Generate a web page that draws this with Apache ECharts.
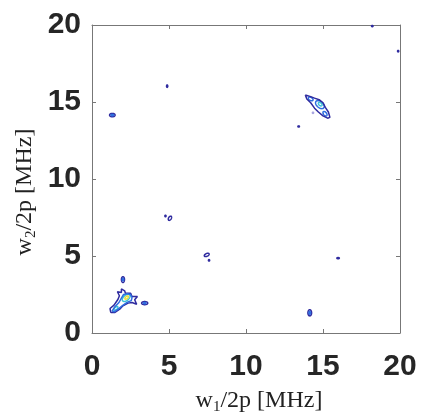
<!DOCTYPE html>
<html><head><meta charset="utf-8">
<script src="https://cdn.jsdelivr.net/npm/echarts@6/dist/echarts.min.js"></script>
<style>html,body{margin:0;padding:0;background:#fff}#c{width:422px;height:416px}</style>
</head><body><div id="c"></div><script>
// ---- data ----
const xTicks = [0, 5, 10, 15, 20];
const yTicks = [0, 5, 10, 15, 20];
const xTitleParts = ['w', '1', '/2p [MHz]'];
const yTitleParts = ['w', '2', '/2p [MHz]'];
// contour level index -> colour (parula-like)
const levelColors = ['#2f2b9f', '#2f6ee0', '#3cc3d6', '#ece23a', '#a9a6e0'];
// small peak contour rings: [cx, cy, rx, ry, angleDeg, level]
const peakRings = [
  [1.32, 14.15, 0.18, 0.11, 0, 0],
  [1.32, 14.15, 0.08, 0.045, 0, 1],
  [14.14, 1.31, 0.12, 0.20, 0, 0],
  [14.14, 1.31, 0.05, 0.09, 0, 1],
  [2.01, 3.47, 0.10, 0.19, 0, 0],
  [2.01, 3.47, 0.04, 0.08, 0, 1],
  [3.42, 1.94, 0.20, 0.10, 0, 0],
  [3.42, 1.94, 0.08, 0.04, 0, 1],
  [5.06, 7.45, 0.09, 0.15, -30, 0],
  [4.77, 7.60, 0.04, 0.05, 0, 0],
  [7.45, 5.07, 0.17, 0.09, 25, 0],
  [7.60, 4.72, 0.04, 0.05, 0, 0],
  [4.88, 16.03, 0.04, 0.08, 0, 0],
  [15.98, 4.86, 0.08, 0.04, 0, 0],
  [13.42, 13.41, 0.05, 0.04, 0, 0],
  [18.20, 19.93, 0.05, 0.04, 0, 0],
  [19.88, 18.30, 0.04, 0.05, 0, 0],
  [14.35, 14.30, 0.04, 0.04, 0, 4],
  [14.20, 15.20, 0.17, 0.10, -30, 1],
  [14.80, 14.83, 0.33, 0.20, -40, 1],
  [15.13, 14.24, 0.17, 0.10, -50, 1],
  [14.82, 14.86, 0.14, 0.09, -40, 2],
  [2.22, 2.28, 0.30, 0.17, 40, 2],
  [1.55, 1.60, 0.16, 0.08, 40, 2],
  [2.25, 2.30, 0.14, 0.07, 40, 3]
];
// cluster outlines (data coordinates)
const lowLeftOuter = [[1.22,1.33],[1.17,1.59],[1.43,1.81],[1.58,2.03],[1.69,2.19],[1.78,2.42],[1.65,2.68],[1.91,2.63],[1.91,2.86],[2.12,2.74],[2.17,2.58],[2.51,2.58],[2.60,2.37],[2.95,2.37],[2.77,2.16],[2.90,1.87],[2.60,1.98],[2.34,1.94],[2.01,1.77],[1.80,1.55],[1.47,1.33],[1.22,1.33]];
const lowLeftMid = [[1.30,1.42],[1.50,1.72],[1.75,1.98],[1.90,2.25],[2.05,2.50],[2.30,2.55],[2.50,2.50],[2.60,2.30],[2.55,2.10],[2.30,2.00],[2.00,1.80],[1.70,1.55],[1.45,1.38],[1.30,1.42]];
const upRightOuter = [[13.85,15.45],[14.20,15.35],[14.45,15.25],[14.75,15.15],[15.00,14.95],[15.15,14.65],[15.35,14.35],[15.45,14.00],[15.30,13.95],[15.00,14.10],[14.70,14.35],[14.45,14.60],[14.20,14.95],[13.95,15.20],[13.85,15.45]];
const clusterOutlines = [
  {points: lowLeftOuter, level: 0},
  {points: lowLeftMid, level: 1},
  {points: upRightOuter, level: 0}
];

// ---- chart ----
const chart = echarts.init(document.getElementById('c'), null, {renderer: 'canvas'});
const axisColor = '#777';
const tickFont = {fontFamily: 'Liberation Sans', fontWeight: 'bold', fontSize: 30, color: '#262626'};
function mkAxis(pos, showLabel, isY) {
  return {
    type: 'value', min: xTicks[0], max: xTicks[xTicks.length - 1], interval: 5,
    position: pos,
    axisLine: {show: true, onZero: false, lineStyle: {color: axisColor, width: 1}},
    axisTick: {show: true, inside: true, length: 4, lineStyle: {color: axisColor}},
    axisLabel: showLabel ? Object.assign({show: true, showMinLabel: true, showMaxLabel: true,
      margin: isY ? 11 : 19}, tickFont, isY ? {padding: [10, 0, 0, 0]} : {}) : {show: false},
    splitLine: {show: false}
  };
}
const series = [];
series.push({
  type: 'custom',
  coordinateSystem: 'cartesian2d',
  xAxisIndex: 0, yAxisIndex: 0,
  silent: true,
  data: peakRings,
  renderItem: function (params, api) {
    const cx = api.value(0), cy = api.value(1), rx = api.value(2), ry = api.value(3);
    const a = api.value(4) * Math.PI / 180, lvl = api.value(5);
    const pts = [];
    for (let i = 0; i < 40; i++) {
      const t = i / 40 * Math.PI * 2;
      const dx = rx * Math.cos(t), dy = ry * Math.sin(t);
      pts.push(api.coord([cx + dx * Math.cos(a) - dy * Math.sin(a), cy + dx * Math.sin(a) + dy * Math.cos(a)]));
    }
    return {type: 'polygon', shape: {points: pts}, style: {fill: 'none', stroke: levelColors[lvl], lineWidth: 1.5}};
  }
});
clusterOutlines.forEach(function (c) {
  series.push({
    type: 'line', data: c.points, showSymbol: false, silent: true,
    lineStyle: {color: levelColors[c.level], width: 1.5}
  });
});
chart.setOption({
  animation: false,
  backgroundColor: '#fff',
  grid: {left: 92, top: 25, width: 308, height: 308, containLabel: false},
  xAxis: [mkAxis('bottom', true, false), mkAxis('top', false, false)],
  yAxis: [mkAxis('left', true, true), mkAxis('right', false, true)],
  series: series,
  graphic: [
    {type: 'text', x: 259, y: 401, silent: true,
     style: {text: '{a|' + xTitleParts[0] + '}{s|' + xTitleParts[1] + '}{a|' + xTitleParts[2] + '}',
       align: 'center', verticalAlign: 'middle',
       rich: {a: {fontFamily: 'Liberation Serif', fontSize: 24, fill: '#222', lineHeight: 28},
              s: {fontFamily: 'Liberation Serif', fontSize: 15, fill: '#222', lineHeight: 28, verticalAlign: 'bottom'}}}},
    {type: 'text', x: 25, y: 192, rotation: Math.PI / 2, silent: true,
     style: {text: '{a|' + yTitleParts[0] + '}{s|' + yTitleParts[1] + '}{a|' + yTitleParts[2] + '}',
       align: 'center', verticalAlign: 'middle',
       rich: {a: {fontFamily: 'Liberation Serif', fontSize: 24, fill: '#222', lineHeight: 28},
              s: {fontFamily: 'Liberation Serif', fontSize: 15, fill: '#222', lineHeight: 28, verticalAlign: 'bottom'}}}}
  ]
});
</script></body></html>
